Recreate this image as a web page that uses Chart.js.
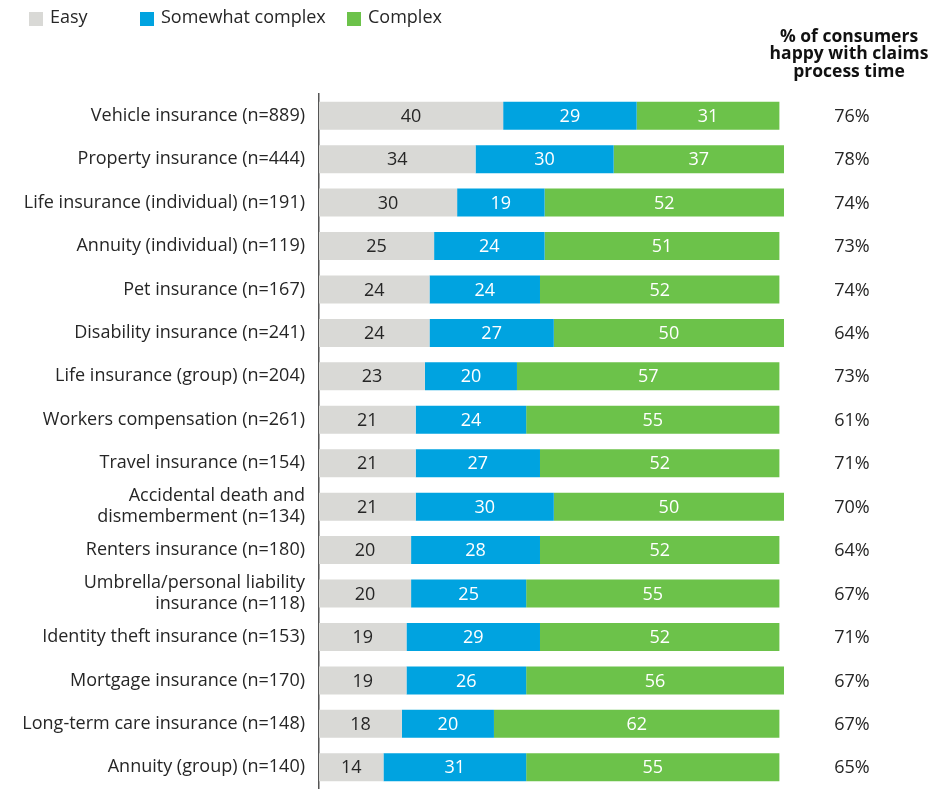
<!DOCTYPE html>
<html>
<head>
<meta charset="utf-8">
<script src="https://cdn.jsdelivr.net/npm/chart.js@4/dist/chart.umd.min.js"></script>
<style>
  body { margin: 0; background: #fff; }
  #wrap { width: 945px; height: 789px; }
</style>
</head>
<body>
<div id="wrap"><canvas id="claimsChart" width="945" height="789"></canvas></div>
<script>
const categories = [
  "Vehicle insurance (n=889)",
  "Property insurance (n=444)",
  "Life insurance (individual) (n=191)",
  "Annuity (individual) (n=119)",
  "Pet insurance (n=167)",
  "Disability insurance (n=241)",
  "Life insurance (group) (n=204)",
  "Workers compensation (n=261)",
  "Travel insurance (n=154)",
  ["Accidental death and", "dismemberment (n=134)"],
  "Renters insurance (n=180)",
  ["Umbrella/personal liability", "insurance (n=118)"],
  "Identity theft insurance (n=153)",
  "Mortgage insurance (n=170)",
  "Long-term care insurance (n=148)",
  "Annuity (group) (n=140)"
];
const easy = [40, 34, 30, 25, 24, 24, 23, 21, 21, 21, 20, 20, 19, 19, 18, 14];
const somewhatComplex = [29, 30, 19, 24, 24, 27, 20, 24, 27, 30, 28, 25, 29, 26, 20, 31];
const complex = [31, 37, 52, 51, 52, 50, 57, 55, 52, 50, 52, 55, 52, 56, 62, 55];
const happyPct = [76, 78, 74, 73, 74, 64, 73, 61, 71, 70, 64, 67, 71, 67, 67, 65];
const headerLines = ["% of consumers", "happy with claims", "process time"];

const FONT = "'Open Sans', sans-serif";
const TEXT = "#262626";

// segment values written in the middle of each bar piece
const segmentLabels = {
  id: "segmentLabels",
  afterDatasetsDraw(chart) {
    const ctx = chart.ctx;
    ctx.save();
    ctx.font = "18px " + FONT;
    ctx.textAlign = "center";
    ctx.textBaseline = "middle";
    chart.data.datasets.forEach((ds, di) => {
      chart.getDatasetMeta(di).data.forEach((bar, i) => {
        const cx = (bar.x + bar.base) / 2;
        ctx.fillStyle = di === 0 ? TEXT : "#ffffff";
        ctx.fillText(ds.data[i], cx, bar.y + 1);
      });
    });
    ctx.restore();
  }
};

// right-hand column with the header and the happy %
const happyColumn = {
  id: "happyColumn",
  afterDraw(chart) {
    const ctx = chart.ctx;
    const y = chart.scales.y;
    ctx.save();
    ctx.textAlign = "center";
    ctx.textBaseline = "middle";
    ctx.fillStyle = "#111";
    ctx.font = "bold 17.5px " + FONT;
    headerLines.forEach((line, i) => ctx.fillText(line, 849, 37 + i * 17.5));
    ctx.fillStyle = TEXT;
    ctx.font = "18px " + FONT;
    happyPct.forEach((v, i) => {
      ctx.fillText(v + "%", 852, y.getPixelForValue(i) + 1);
    });
    ctx.restore();
  }
};

// legend row at the top left
const topLegend = {
  id: "topLegend",
  afterDraw(chart) {
    const ctx = chart.ctx;
    const xs = [29, 140, 347];
    ctx.save();
    ctx.font = "18px " + FONT;
    ctx.textBaseline = "middle";
    chart.data.datasets.forEach((ds, i) => {
      ctx.fillStyle = ds.backgroundColor;
      ctx.fillRect(xs[i], 12, 14, 14);
      ctx.fillStyle = TEXT;
      ctx.fillText(ds.label, xs[i] + 21, 18);
    });
    ctx.restore();
  }
};

new Chart(document.getElementById("claimsChart"), {
  type: "bar",
  data: {
    labels: categories,
    datasets: [
      { label: "Easy", data: easy, backgroundColor: "#D9D9D6" },
      { label: "Somewhat complex", data: somewhatComplex, backgroundColor: "#00A3E0" },
      { label: "Complex", data: complex, backgroundColor: "#6CC24A" }
    ]
  },
  options: {
    indexAxis: "y",
    responsive: false,
    animation: false,
    layout: { padding: { top: 94, right: 161, left: 0, bottom: 0 } },
    datasets: { bar: { barPercentage: 1, categoryPercentage: 0.645 } },
    scales: {
      x: { stacked: true, min: 0, max: 101, display: false },
      y: {
        stacked: true,
        afterFit(scale) {
          scale.width = 319;
          scale.paddingTop = 0;
          scale.paddingBottom = 0;
        },
        grid: { display: true, drawOnChartArea: false, drawTicks: false },
        border: { display: true, color: "#555", width: 1.5 },
        ticks: {
          autoSkip: false,
          padding: 14,
          color: TEXT,
          font: { family: FONT, size: 18, lineHeight: 1.17 }
        }
      }
    },
    plugins: {
      legend: { display: false },
      tooltip: { enabled: false }
    }
  },
  plugins: [segmentLabels, happyColumn, topLegend]
});
</script>
</body>
</html>
